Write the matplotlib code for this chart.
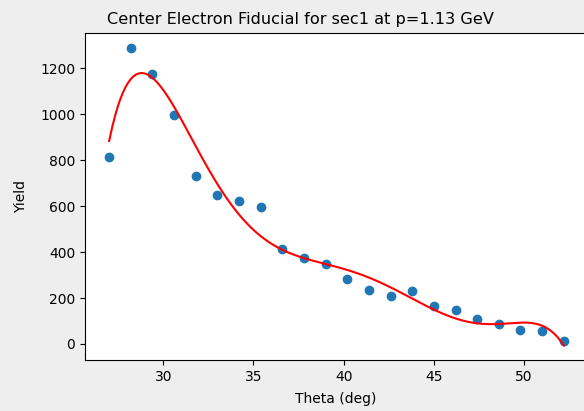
import numpy as np
import matplotlib
matplotlib.use("Agg")
import matplotlib.pyplot as plt

SECTOR = "sec1"
P_GEV  = 1.13

theta = [27.0, 28.2, 29.4, 30.6, 31.8, 33.0, 34.2, 35.4, 36.6, 37.8, 39.0,
         40.2, 41.4, 42.6, 43.8, 45.0, 46.2, 47.4, 48.6, 49.8, 51.0, 52.2]
yld   = [815, 1287, 1175, 998, 731, 649, 623, 595, 412, 373, 348,
         283, 236, 210, 231, 164, 147, 109, 86, 61, 58, 14]

theta = np.array(theta)
yld = np.array(yld)

#### polynomial fit to the yield ####
coef = np.polyfit(theta, yld, 6)
xfit = np.linspace(theta.min(), theta.max(), 300)
yfit = np.polyval(coef, xfit)

fig = plt.figure(figsize=(5.84, 4.11), dpi=100, facecolor="#eeeeee")
ax = fig.add_axes([0.1455, 0.124, 0.86, 0.796])
ax.scatter(theta, yld)
ax.plot(xfit, yfit, "r")
fig.suptitle("Center Electron Fiducial for " + SECTOR + " at p=" + str(P_GEV) + " GeV",
             x=300.5/584, y=0.97, fontsize=11.6)
ax.set_xlabel("Theta (deg)", labelpad=6)
ax.set_ylabel("Yield", labelpad=9)
ax.set_xlim(25.66, 53.5)
ax.set_ylim(-70, 1354)

plt.savefig("out.png", dpi=100, facecolor=fig.get_facecolor())
